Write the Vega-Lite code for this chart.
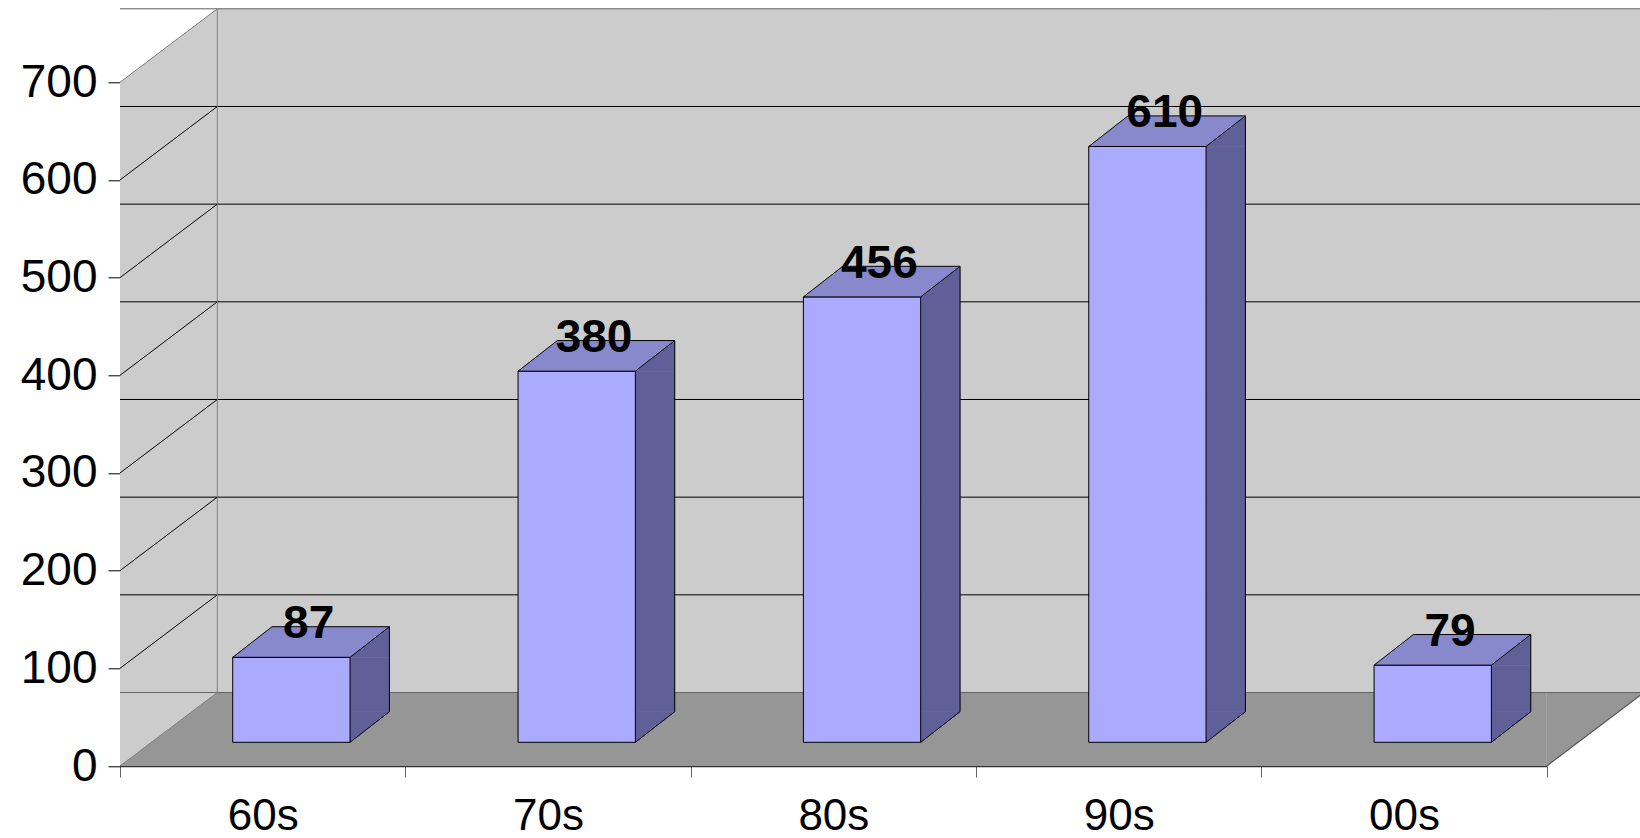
{
  "$schema": "https://vega.github.io/schema/vega-lite/v6.json",
  "autosize": {"type": "none"},
  "padding": {"left": 120, "top": 82.3, "right": 93.3, "bottom": 72},
  "width": 1426.7,
  "height": 683.7,
  "background": "white",
  "datasets": {
    "bars": [
      {"decade": "60s", "value": 87},
      {"decade": "70s", "value": 380},
      {"decade": "80s", "value": 456},
      {"decade": "90s", "value": 610},
      {"decade": "00s", "value": 79}
    ],
    "grid": [
      {"v": 0}, {"v": 100}, {"v": 200}, {"v": 300}, {"v": 400}, {"v": 500}, {"v": 600}, {"v": 700}
    ]
  },
  "data": {"name": "bars"},
  "config": {
    "view": {"stroke": null},
    "scale": {"bandPaddingInner": 0, "bandPaddingOuter": 0},
    "axisY": {
      "grid": false,
      "domainColor": "black",
      "domainWidth": 1,
      "tickColor": "black",
      "tickSize": 12,
      "tickWidth": 1,
      "labelFont": "Liberation Sans",
      "labelFontSize": 46,
      "labelColor": "black",
      "labelPadding": 11,
      "zindex": 1
    },
    "axisX": {
      "grid": false,
      "tickBand": "extent",
      "domainColor": "#333333",
      "domainWidth": 1.5,
      "tickColor": "#666666",
      "tickSize": 11,
      "labelAngle": 0,
      "labelFont": "Liberation Sans",
      "labelFontSize": 44,
      "labelColor": "black",
      "labelBaseline": "alphabetic",
      "labelPadding": 52,
      "zindex": 1
    }
  },
  "layer": [
    {
      "transform": [{"filter": "datum.decade === '60s'"}],
      "mark": {"type": "rect", "fill": "#CCCCCC", "yOffset": -73.5},
      "encoding": {
        "y": {"datum": 700, "type": "quantitative", "scale": {"domain": [0, 700], "nice": false}, "axis": {"values": [0, 100, 200, 300, 400, 500, 600, 700]}, "title": null},
        "y2": {"datum": 0}
      }
    },
    {
      "transform": [{"filter": "datum.decade === '60s'"}],
      "mark": {"type": "rect", "fill": "#CCCCCC", "xOffset": 97.3, "x2Offset": 97.3, "yOffset": -73.5, "y2Offset": -73.5},
      "encoding": {
        "y": {"datum": 700, "type": "quantitative"},
        "y2": {"datum": 0}
      }
    },
    {
      "transform": [{"filter": "datum.decade === '60s'"}],
      "mark": {"type": "rect", "fill": "#969696", "yOffset": -73.5},
      "encoding": {
        "y": {"datum": 0, "type": "quantitative"},
        "y2": {"datum": 0}
      }
    },
    {
      "transform": [{"filter": "datum.decade === '60s'"}],
      "mark": {"type": "point", "shape": "M0,0L0,-73.5L97.3,-73.5Z", "size": 4, "filled": true, "fill": "#CCCCCC", "strokeWidth": 0, "opacity": 1},
      "encoding": {
        "x": {"field": "decade", "type": "nominal", "sort": null, "bandPosition": 0, "scale": {"domain": ["60s", "70s", "80s", "90s", "00s"]}, "title": null},
        "y": {"datum": 0, "type": "quantitative"}
      }
    },
    {
      "transform": [{"filter": "datum.decade === '60s'"}],
      "mark": {"type": "point", "shape": "M0,0L0,-73.5L97.3,-73.5Z", "size": 4, "filled": true, "fill": "white", "strokeWidth": 0, "opacity": 1},
      "encoding": {
        "x": {"field": "decade", "type": "nominal", "sort": null, "bandPosition": 0, "title": null},
        "y": {"datum": 700, "type": "quantitative"}
      }
    },
    {
      "transform": [{"filter": "datum.decade === '00s'"}],
      "mark": {"type": "point", "shape": "M0,0L97.3,-73.5L0,-73.5Z", "size": 4, "filled": true, "fill": "#969696", "strokeWidth": 0, "opacity": 1},
      "encoding": {
        "x": {"field": "decade", "type": "nominal", "sort": null, "bandPosition": 1, "title": null},
        "y": {"datum": 0, "type": "quantitative"}
      }
    },
    {
      "data": {"name": "grid"},
      "mark": {"type": "rule", "xOffset": 97.3, "x2Offset": 97.3, "yOffset": -73.5, "strokeWidth": 1},
      "encoding": {
        "y": {"field": "v", "type": "quantitative", "title": null},
        "stroke": {
          "condition": {"test": "datum.v > 0 && datum.v < 700", "value": "black"},
          "value": "#666666"
        }
      }
    },
    {
      "transform": [{"filter": "datum.decade === '60s'"}],
      "mark": {"type": "rule", "stroke": "#808080", "xOffset": 97.3, "yOffset": -73.5, "y2Offset": -73.5, "strokeWidth": 1},
      "encoding": {
        "x": {"field": "decade", "type": "nominal", "sort": null, "bandPosition": 0, "title": null},
        "y": {"datum": 700, "type": "quantitative"},
        "y2": {"datum": 0}
      }
    },
    {
      "data": {"name": "grid"},
      "mark": {"type": "point", "shape": "M0,0L97.3,-73.5", "size": 4, "filled": false, "strokeWidth": 1, "opacity": 1},
      "encoding": {
        "x": {"datum": "60s", "type": "nominal", "bandPosition": 0, "scale": {"domain": ["60s", "70s", "80s", "90s", "00s"]}},
        "y": {"field": "v", "type": "quantitative", "title": null},
        "stroke": {
          "condition": {"test": "datum.v > 0 && datum.v < 700", "value": "black"},
          "value": "#808080"
        }
      }
    },
    {
      "transform": [{"filter": "datum.decade === '00s'"}],
      "mark": {"type": "point", "shape": "M0,0L97.3,-73.5", "size": 4, "filled": false, "stroke": "#555555", "strokeWidth": 1.2, "opacity": 1},
      "encoding": {
        "x": {"field": "decade", "type": "nominal", "sort": null, "bandPosition": 1, "title": null},
        "y": {"datum": 0, "type": "quantitative"}
      }
    },
    {
      "mark": {"type": "bar", "width": 39.3, "xOffset": 107, "yOffset": -23.7, "y2Offset": -54.3, "fill": "#606099", "stroke": "#606099", "strokeWidth": 0.5},
      "encoding": {
        "x": {"field": "decade", "type": "nominal", "sort": null, "title": null},
        "y": {"field": "value", "type": "quantitative", "title": null},
        "y2": {"datum": 0}
      }
    },
    {
      "mark": {"type": "point", "shape": "M58.65,0L98,-30.6L98,0Z", "size": 4, "filled": true, "fill": "#606099", "stroke": "#606099", "strokeWidth": 0.5, "opacity": 1, "xOffset": 28.7, "yOffset": -23.7},
      "encoding": {
        "x": {"field": "decade", "type": "nominal", "sort": null, "title": null},
        "y": {"field": "value", "type": "quantitative", "title": null}
      }
    },
    {
      "mark": {"type": "point", "shape": "M58.65,-30.6L58.65,0L98,-30.6Z", "size": 4, "filled": true, "fill": "#606099", "stroke": "#606099", "strokeWidth": 0.5, "opacity": 1, "xOffset": 28.7, "yOffset": -23.7},
      "encoding": {
        "x": {"field": "decade", "type": "nominal", "sort": null, "title": null},
        "y": {"datum": 0, "type": "quantitative"}
      }
    },
    {
      "mark": {"type": "point", "shape": "M58.65,0L98,-30.6", "size": 4, "filled": false, "stroke": "black", "strokeWidth": 1, "opacity": 1, "xOffset": 28.7, "yOffset": -23.7},
      "encoding": {
        "x": {"field": "decade", "type": "nominal", "sort": null, "title": null},
        "y": {"datum": 0, "type": "quantitative"}
      }
    },
    {
      "mark": {"type": "rule", "stroke": "black", "strokeWidth": 1, "xOffset": 126.7, "yOffset": -54.3, "y2Offset": -54.3},
      "encoding": {
        "x": {"field": "decade", "type": "nominal", "sort": null, "title": null},
        "y": {"field": "value", "type": "quantitative", "title": null},
        "y2": {"datum": 0}
      }
    },
    {
      "mark": {"type": "bar", "width": {"band": 0.4111}, "xOffset": 28.7, "yOffset": -23.7, "y2Offset": -23.7, "fill": "#AAAAFF", "stroke": "black", "strokeWidth": 1},
      "encoding": {
        "x": {"field": "decade", "type": "nominal", "sort": null, "scale": {"domain": ["60s", "70s", "80s", "90s", "00s"]}, "title": null},
        "y": {"field": "value", "type": "quantitative", "title": null},
        "y2": {"datum": 0}
      }
    },
    {
      "mark": {"type": "point", "shape": "M-58.65,0L58.65,0L98,-30.6L-19.35,-30.6Z", "size": 4, "filled": true, "fill": "#8888CC", "stroke": "black", "strokeWidth": 1, "opacity": 1, "xOffset": 28.7, "yOffset": -23.7},
      "encoding": {
        "x": {"field": "decade", "type": "nominal", "sort": null, "title": null},
        "y": {"field": "value", "type": "quantitative", "title": null}
      }
    },
    {
      "mark": {"type": "text", "font": "Liberation Sans", "fontSize": 46, "fontWeight": "bold", "fill": "black", "align": "center", "baseline": "alphabetic", "xOffset": 46, "yOffset": -43},
      "encoding": {
        "x": {"field": "decade", "type": "nominal", "sort": null, "title": null},
        "y": {"field": "value", "type": "quantitative", "title": null},
        "text": {"field": "value", "type": "quantitative"}
      }
    }
  ]
}
